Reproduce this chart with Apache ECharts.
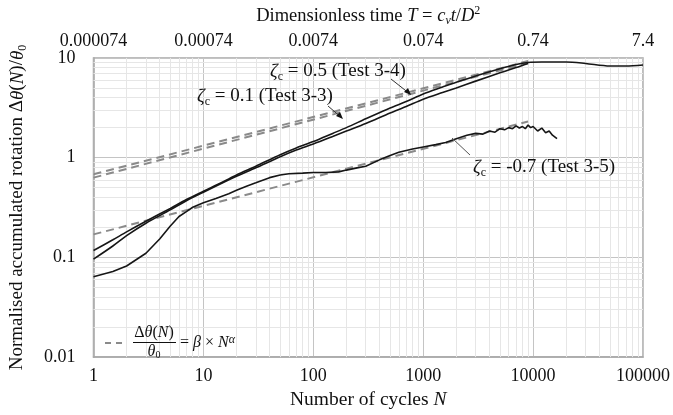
<!DOCTYPE html>
<html><head><meta charset="utf-8">
<script src="https://cdn.jsdelivr.net/npm/echarts@6/dist/echarts.min.js"></script>
<style>html,body{margin:0;padding:0;background:#fff}#c{width:673px;height:415px}</style>
</head><body><div id="c"></div>
<script>
// ---- tick labels ----
const xTickLabels = ['1', '10', '100', '1000', '10000', '100000'];
const topTickLabels = ['0.000074', '0.00074', '0.0074', '0.074', '0.74', '7.4'];
const yTickLabels = ['0.01', '0.1', '1', '10'];

// ---- zeta_c = 0.5 (Test 3-4) ----
const n05 = [1, 1.5, 2, 3, 5, 7, 10, 15, 20, 30, 50, 70, 100, 150, 200, 300, 500, 700, 1000, 1500, 2000, 3000, 5000, 7000, 9000, 12000, 20000, 30000, 50000, 70000, 100000];
const v05 = [0.117, 0.15, 0.18, 0.23, 0.31, 0.38, 0.46, 0.57, 0.67, 0.82, 1.07, 1.25, 1.45, 1.75, 2.0, 2.45, 3.15, 3.65, 4.35, 5.1, 5.7, 6.6, 7.8, 8.6, 9.0, 9.1, 9.1, 8.8, 8.3, 8.3, 8.5];

// ---- zeta_c = 0.1 (Test 3-3) ----
const n01 = [1, 1.5, 2, 3, 5, 7, 10, 15, 20, 30, 50, 70, 100, 150, 200, 300, 500, 700, 1000, 1500, 2000, 3000, 5000, 7000, 9000];
const v01 = [0.096, 0.13, 0.165, 0.22, 0.30, 0.37, 0.45, 0.56, 0.65, 0.79, 1.02, 1.19, 1.37, 1.63, 1.85, 2.2, 2.8, 3.25, 3.85, 4.5, 5.0, 5.85, 7.1, 8.0, 8.8];

// ---- zeta_c = -0.7 (Test 3-5) ----
const nM07 = [1, 1.5, 2, 3, 4, 5, 6, 7, 8, 10, 13, 17, 20, 25, 30, 40, 50, 60, 80, 100, 130, 170, 200, 250, 300, 400, 500, 600, 800, 1000, 1300, 1600, 2000, 2500, 3000, 3500, 4000, 4500, 5000, 5500, 6000, 6500, 7000, 7500, 8000, 8500, 9000, 9500, 10000, 11000, 12000, 13000, 14000, 15000, 16500];
const vM07 = [0.064, 0.072, 0.082, 0.11, 0.153, 0.206, 0.257, 0.288, 0.318, 0.352, 0.39, 0.435, 0.47, 0.52, 0.56, 0.63, 0.67, 0.69, 0.70, 0.71, 0.71, 0.72, 0.75, 0.79, 0.82, 0.95, 1.05, 1.13, 1.22, 1.28, 1.35, 1.42, 1.55, 1.68, 1.75, 1.72, 1.85, 1.8, 1.95, 1.9, 2.0, 1.95, 2.08, 1.98, 2.05, 1.95, 2.12, 2.0, 2.05, 1.85, 1.98, 1.78, 1.85, 1.68, 1.55];

// ---- power-law fits (dashed), endpoints ----
const nFitA = [1, 9000];
const vFitA = [0.68, 9.3];
const nFitB = [1, 9000];
const vFitB = [0.63, 8.9];
const nFitC = [1, 9000];
const vFitC = [0.17, 2.3];

const zip = (a, b) => a.map((x, i) => [x, b[i]]);
const FONT = 'Liberation Serif';

// minor grid positions (axis structure)
const xMinor = [], yMinor = [];
for (let d = 1; d < 100000; d *= 10) for (let k = 2; k <= 9; k++) xMinor.push(k * d);
for (let d = 0.01; d < 10; d *= 10) for (let k = 2; k <= 9; k++) yMinor.push(+(k * d).toPrecision(3));

const chart = echarts.init(document.getElementById('c'), null, { renderer: 'canvas' });

const curveStyle = () => ({ color: '#161616', width: 1.6, type: 'solid' });
const fitStyle = () => ({ color: '#8a8a8a', width: 2, type: [8, 5] });

const richAnn = {
  z: { fontFamily: FONT, fontSize: 19, fontStyle: 'italic', fill: '#111', lineHeight: 22 },
  s: { fontFamily: FONT, fontSize: 12, fill: '#111', verticalAlign: 'bottom', lineHeight: 12 },
  n: { fontFamily: FONT, fontSize: 19, fill: '#111', lineHeight: 22 }
};

const option = {
  animation: false,
  backgroundColor: '#ffffff',
  textStyle: { fontFamily: FONT },
  grid: { left: 92, right: 30, top: 53, bottom: 53, show: true, borderColor: '#a8a8a8', borderWidth: 1.5 },
  xAxis: [
    {
      type: 'log', logBase: 10, min: 1, max: 100000, position: 'bottom',
      axisLine: { show: true, lineStyle: { color: '#a8a8a8', width: 1.5 } },
      axisTick: { show: false },
      axisLabel: { margin: 10, color: '#111', fontFamily: FONT, fontSize: 18,
        alignMinLabel: 'center', alignMaxLabel: 'center',
        formatter: v => xTickLabels[Math.round(Math.log10(v))] },
      splitLine: { show: true, lineStyle: { color: '#c4c4c4', width: 1 } },
      name: '{n|Number of cycles }{i|N}', nameLocation: 'middle', nameGap: 29,
      nameTextStyle: { rich: {
        n: { fontFamily: FONT, fontSize: 19.5, color: '#111' },
        i: { fontFamily: FONT, fontSize: 19.5, color: '#111', fontStyle: 'italic' } } }
    },
    {
      type: 'log', logBase: 10, min: 1, max: 100000, position: 'top',
      axisLine: { show: false },
      axisTick: { show: false },
      axisLabel: { margin: 8, color: '#111', fontFamily: FONT, fontSize: 18,
        alignMinLabel: 'center', alignMaxLabel: 'center', hideOverlap: false,
        formatter: v => topTickLabels[Math.round(Math.log10(v))] },
      splitLine: { show: false },
      name: '{n|Dimensionless time }{i|T}{n| = }{i|c}{sub|v}{i|t}{n|/}{i|D}{sup|2}',
      nameLocation: 'middle', nameGap: 30,
      nameTextStyle: { rich: {
        n: { fontFamily: FONT, fontSize: 18.5, color: '#111', lineHeight: 22 },
        i: { fontFamily: FONT, fontSize: 18.5, color: '#111', fontStyle: 'italic', lineHeight: 22 },
        sub: { fontFamily: FONT, fontSize: 12, color: '#111', fontStyle: 'italic', verticalAlign: 'bottom', lineHeight: 12 },
        sup: { fontFamily: FONT, fontSize: 12, color: '#111', verticalAlign: 'top', lineHeight: 12 } } }
    }
  ],
  yAxis: {
    type: 'log', logBase: 10, min: 0.01, max: 10,
    axisLine: { show: true, lineStyle: { color: '#a8a8a8', width: 1.5 } },
    axisTick: { show: false },
    axisLabel: { margin: 18, color: '#111', fontFamily: FONT, fontSize: 18,
      formatter: v => yTickLabels[Math.round(Math.log10(v)) + 2] },
    splitLine: { show: true, lineStyle: { color: '#c4c4c4', width: 1 } },
    name: '{n|Normalised accumulated rotation Δ}{i|θ}{n|(}{i|N}{n|)/}{i|θ}{sub|0}',
    nameLocation: 'middle', nameGap: 65, nameRotate: 90,
    nameTextStyle: { rich: {
      n: { fontFamily: FONT, fontSize: 19, color: '#111', lineHeight: 22 },
      i: { fontFamily: FONT, fontSize: 19, color: '#111', fontStyle: 'italic', lineHeight: 22 },
      sub: { fontFamily: FONT, fontSize: 12, color: '#111', verticalAlign: 'bottom', lineHeight: 12 } } }
  },
  series: [
    {
      name: 'minorGrid', type: 'line', data: [], silent: true, z: 1,
      markLine: {
        z: 1, silent: true, symbol: 'none', animation: false, label: { show: false },
        lineStyle: { color: '#e6e6e6', width: 1, type: 'solid' },
        emphasis: { disabled: true },
        data: xMinor.map(v => ({ xAxis: v })).concat(yMinor.map(v => ({ yAxis: v })))
      }
    },
    { name: 'fitA', type: 'line', data: zip(nFitA, vFitA), showSymbol: false, lineStyle: fitStyle(), z: 3 },
    { name: 'fitB', type: 'line', data: zip(nFitB, vFitB), showSymbol: false, lineStyle: fitStyle(), z: 3 },
    { name: 'fitC', type: 'line', data: zip(nFitC, vFitC), showSymbol: false, lineStyle: fitStyle(), z: 3 },
    { name: 'zeta 0.5', type: 'line', data: zip(n05, v05), showSymbol: false, smooth: 0.3, lineStyle: curveStyle(), z: 4 },
    { name: 'zeta 0.1', type: 'line', data: zip(n01, v01), showSymbol: false, smooth: 0.3, lineStyle: curveStyle(), z: 4 },
    { name: 'zeta -0.7', type: 'line', data: zip(nM07, vM07), showSymbol: false, lineStyle: curveStyle(), z: 4 }
  ],
  graphic: [
    // annotation labels
    { type: 'text', left: 270, top: 62, z: 10, style: { text: '{z|ζ}{s|c}{n| = 0.5 (Test 3-4)}', rich: richAnn } },
    { type: 'text', left: 197, top: 87, z: 10, style: { text: '{z|ζ}{s|c}{n| = 0.1 (Test 3-3)}', rich: richAnn } },
    { type: 'text', left: 473, top: 158, z: 10, style: { text: '{z|ζ}{s|c}{n| = -0.7 (Test 3-5)}', rich: richAnn } },
    // arrows
    { type: 'line', z: 10, shape: { x1: 391, y1: 79, x2: 410, y2: 94 }, style: { stroke: '#333', lineWidth: 1 } },
    { type: 'polygon', z: 10, shape: { points: [[411, 95], [404, 92], [408, 88]] }, style: { fill: '#111' } },
    { type: 'line', z: 10, shape: { x1: 328, y1: 106, x2: 342, y2: 118 }, style: { stroke: '#333', lineWidth: 1 } },
    { type: 'polygon', z: 10, shape: { points: [[343, 119], [336, 116], [340, 112]] }, style: { fill: '#111' } },
    { type: 'line', z: 10, shape: { x1: 470, y1: 155, x2: 452, y2: 138 }, style: { stroke: '#555', lineWidth: 1 } },
    // legend
    { type: 'line', z: 10, shape: { x1: 105, y1: 343, x2: 111, y2: 343 }, style: { stroke: '#8a8a8a', lineWidth: 2 } },
    { type: 'line', z: 10, shape: { x1: 116, y1: 343, x2: 122, y2: 343 }, style: { stroke: '#8a8a8a', lineWidth: 2 } },
    { type: 'text', z: 10, x: 154, y: 333, style: { text: '{n|Δ}{i|θ}{n|(}{i|N}{n|)}', align: 'center', verticalAlign: 'middle', rich: {
      n: { fontFamily: FONT, fontSize: 16, fill: '#111' },
      i: { fontFamily: FONT, fontSize: 16, fontStyle: 'italic', fill: '#111' } } } },
    { type: 'line', z: 10, shape: { x1: 133, y1: 342.5, x2: 176, y2: 342.5 }, style: { stroke: '#111', lineWidth: 1 } },
    { type: 'text', z: 10, x: 154, y: 352, style: { text: '{i|θ}{s|0}', align: 'center', verticalAlign: 'middle', rich: {
      i: { fontFamily: FONT, fontSize: 16, fontStyle: 'italic', fill: '#111', lineHeight: 17 },
      s: { fontFamily: FONT, fontSize: 10, fill: '#111', verticalAlign: 'bottom', lineHeight: 10 } } } },
    { type: 'text', z: 10, x: 180, y: 343, style: { text: '{n|= }{i|β}{n| × }{i|N}{s|α}', align: 'left', verticalAlign: 'middle', rich: {
      n: { fontFamily: FONT, fontSize: 16, fill: '#111', lineHeight: 19 },
      i: { fontFamily: FONT, fontSize: 16, fontStyle: 'italic', fill: '#111', lineHeight: 19 },
      s: { fontFamily: FONT, fontSize: 12, fontStyle: 'italic', fill: '#111', verticalAlign: 'top', lineHeight: 12 } } } }
  ]
};
chart.setOption(option);
</script>
</body></html>
